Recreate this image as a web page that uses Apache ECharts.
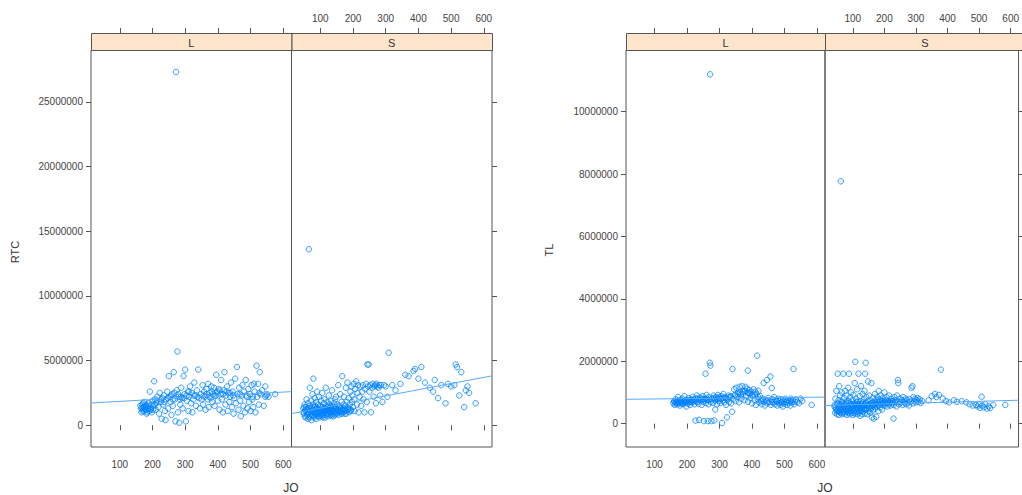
<!DOCTYPE html>
<html><head><meta charset="utf-8">
<script src="https://cdn.jsdelivr.net/npm/echarts@6/dist/echarts.min.js"></script>
<style>html,body{margin:0;padding:0;background:#fff}#c{width:1022px;height:495px}</style>
</head><body><div id="c"></div>
<script>
// ---- data (JO, value in millions) ----
const panels = ['L', 'S'];
const xTicks = [100, 200, 300, 400, 500, 600];
const rtcTicks = [0, 5000000, 10000000, 15000000, 20000000, 25000000];
const tlTicks = [0, 2000000, 4000000, 6000000, 8000000, 10000000];

const rtcL = [[165,1.3],[168,1.6],[170,1.1],[172,1.4],[175,1.8],[178,1.2],[180,1.5],[182,0.9],[185,1.4],[188,1.7],[190,1.1],[192,2.6],[195,1.3],[198,1.0],[200,1.9],[203,1.5],[205,3.4],[208,2.0],[210,1.2],[212,1.7],[215,2.2],[218,1.4],[220,0.9],[222,2.5],[225,1.8],[228,0.5],[230,2.1],[233,1.6],[235,2.3],[238,1.1],[240,0.4],[242,2.0],[245,2.6],[248,1.3],[250,3.8],[252,2.2],[255,1.8],[258,0.8],[260,2.4],[262,1.5],[265,4.1],[268,2.0],[270,0.3],[272,27.3],[274,2.7],[276,5.7],[278,1.0],[280,2.2],[282,0.2],[285,1.6],[288,2.9],[290,2.1],[292,1.3],[295,3.8],[298,2.4],[300,4.3],[302,0.3],[305,1.9],[308,2.6],[310,1.1],[312,2.2],[315,3.0],[318,1.7],[320,2.5],[322,1.0],[325,2.0],[328,3.3],[330,2.3],[333,1.5],[336,2.7],[340,4.3],[342,2.1],[345,1.3],[348,2.4],[350,2.0],[353,3.1],[355,1.6],[358,2.6],[360,2.2],[362,1.2],[365,2.8],[368,2.0],[370,3.2],[372,1.4],[375,2.5],[378,2.1],[380,3.0],[383,1.8],[385,2.4],[388,2.9],[390,1.5],[393,2.3],[395,3.9],[398,2.6],[400,1.9],[402,2.8],[405,1.2],[408,2.4],[410,3.5],[412,2.0],[415,1.0],[418,2.7],[420,4.1],[423,1.6],[425,2.3],[428,3.0],[430,1.1],[433,2.5],[435,1.8],[438,2.2],[440,3.3],[443,1.4],[445,2.6],[448,0.9],[450,2.1],[453,3.6],[455,1.7],[458,4.5],[460,2.4],[463,1.2],[465,2.9],[468,1.9],[470,0.7],[473,2.3],[475,3.1],[478,1.5],[480,2.6],[483,1.0],[485,3.5],[488,2.2],[490,1.3],[493,2.8],[495,1.8],[498,2.4],[500,1.1],[503,3.1],[505,2.0],[508,1.4],[510,3.2],[512,2.6],[515,1.0],[518,4.6],[520,2.2],[523,3.2],[525,1.6],[528,4.1],[530,2.4],[535,2.7],[540,1.5],[545,3.0],[548,2.3],[550,2.4],[555,2.2],[575,2.4],
[163,1.5],[166,1.0],[169,1.3],[171,1.7],[174,1.1],[176,1.4],[179,1.6],[181,1.2],[184,1.0],[187,1.3],[189,1.5],[194,1.2],[197,1.6],[202,1.2],[207,1.6],[214,1.9],[227,2.0],[236,1.8],[247,2.1],[257,2.3],[263,2.0],[267,2.5],[279,2.4],[284,2.0],[287,2.2],[297,2.1],[304,2.3],[311,2.6],[327,2.3],[338,2.2],[357,2.3],[366,2.4],[374,2.2],[382,2.6],[389,2.3],[397,2.5],[406,2.7],[416,2.4],[426,2.6],[437,2.5],[447,2.3],[467,2.4],[487,2.3],[507,2.2],[527,2.5],[545,2.2]];

const rtcS = [[48,1.3],[50,0.9],[52,1.6],[54,1.1],[55,0.6],[57,1.4],[58,2.0],[60,0.8],[61,1.2],[62,1.7],[63,0.5],[65,13.6],[66,1.0],[67,1.5],[68,2.9],[70,0.7],[71,1.3],[72,1.9],[73,0.4],[75,1.1],[76,2.4],[77,0.8],[78,1.6],[79,3.6],[80,1.0],[81,0.6],[82,1.4],[83,2.1],[85,0.9],[86,1.2],[87,0.5],[88,1.8],[89,1.0],[90,2.6],[91,0.7],[92,1.3],[93,1.6],[95,0.9],[96,2.2],[97,1.1],[98,0.6],[100,1.5],[101,0.8],[102,1.9],[103,1.2],[105,0.7],[106,2.5],[107,1.0],[108,1.4],[110,0.8],[111,1.7],[112,1.1],[113,2.0],[115,0.6],[116,1.3],[117,2.9],[118,0.9],[120,1.5],[121,1.1],[122,1.8],[123,0.7],[125,1.2],[126,2.3],[127,0.9],[128,1.6],[130,1.0],[131,1.4],[132,0.8],[133,1.9],[135,1.2],[136,2.7],[137,0.9],[138,1.5],[140,1.1],[141,0.7],[142,1.7],[143,1.3],[145,2.0],[146,0.9],[147,1.4],[148,2.2],[150,1.0],[152,1.6],[153,1.2],[155,3.1],[156,0.8],[158,1.5],[160,1.1],[161,2.4],[162,1.3],[164,0.9],[165,1.8],[167,3.8],[168,1.2],[170,1.0],[171,1.6],[172,2.2],[174,1.3],[175,0.9],[177,1.5],[178,2.9],[180,1.1],[182,1.8],[183,3.3],[185,1.3],[187,2.1],[188,1.0],[190,1.6],[192,2.6],[193,1.2],[195,3.0],[197,1.8],[198,2.3],[200,1.4],[202,3.2],[204,2.0],[205,1.1],[207,2.8],[210,3.4],[212,1.6],[214,2.5],[215,3.1],[217,1.0],[220,2.2],[222,3.0],[225,1.5],[228,2.6],[230,3.1],[232,2.0],[235,1.0],[238,2.8],[240,3.2],[242,1.8],[244,4.7],[246,3.0],[248,4.7],[250,2.6],[253,3.1],[255,1.0],[258,2.9],[260,3.2],[263,2.2],[265,3.0],[268,3.1],[270,1.7],[272,3.2],[275,3.0],[278,2.9],[280,3.1],[283,2.3],[285,3.1],[290,1.8],[295,3.1],[300,3.0],[305,2.2],[309,5.6],[320,3.1],[330,2.7],[345,3.2],[360,3.9],[370,3.8],[385,4.2],[390,4.35],[400,3.6],[409,4.5],[420,3.3],[435,2.9],[445,2.6],[450,3.5],[460,2.1],[470,3.1],[483,1.7],[490,3.2],[500,3.0],[510,3.1],[514,4.7],[518,4.5],[525,2.3],[531,4.1],[540,1.4],[545,2.7],[550,3.0],[555,2.5],[575,1.7],
[49,1.0],[51,1.4],[53,0.7],[56,1.2],[59,1.0],[62,0.9],[64,1.3],[66,0.6],[69,1.1],[72,0.9],[74,1.4],[77,1.2],[79,0.7],[82,1.0],[84,1.5],[86,0.8],[88,1.3],[91,1.0],[94,1.2],[96,0.7],[99,1.1],[102,1.4],[104,0.9],[107,1.2],[109,0.6],[112,1.3],[114,1.0],[117,0.8],[119,1.2],[122,1.4],[124,0.9],[127,1.1],[129,1.3],[132,1.0],[134,0.7],[137,1.2],[139,1.4],[142,1.0],[144,0.8],[147,1.1],[149,1.3],[152,0.9],[154,1.2],[157,1.0],[159,1.4],[163,1.1],[166,0.9],[169,1.3],[173,1.1],[176,1.2],[179,0.9],[184,1.2],[189,1.3],[194,1.1]];

const tlL = [[158,0.65],[160,0.72],[162,0.60],[165,0.78],[167,0.68],[170,0.62],[172,0.85],[175,0.70],[178,0.58],[180,0.75],[182,0.66],[185,0.80],[188,0.62],[190,0.72],[192,0.88],[195,0.66],[198,0.55],[200,0.74],[203,0.64],[205,0.82],[208,0.70],[210,0.60],[213,0.77],[215,0.68],[218,0.86],[220,0.72],[223,0.62],[226,0.10],[228,0.80],[230,0.90],[232,0.70],[235,0.64],[237,0.12],[240,0.84],[242,0.74],[245,0.60],[248,0.88],[250,0.70],[252,0.08],[255,0.80],[257,1.60],[258,0.66],[260,0.92],[262,0.75],[264,0.08],[266,0.62],[268,0.85],[270,1.95],[271,11.2],[272,1.86],[273,0.70],[275,0.08],[277,0.80],[280,0.66],[282,0.90],[284,0.10],[286,0.75],[287,0.45],[290,0.85],[292,0.62],[295,0.92],[298,0.72],[300,0.80],[302,0.66],[305,0.88],[308,0.02],[310,0.74],[312,0.95],[315,0.68],[318,0.82],[320,0.60],[323,0.20],[325,0.78],[328,0.90],[330,0.70],[333,0.85],[336,0.65],[339,0.38],[340,1.75],[342,0.78],[345,1.10],[347,0.90],[350,0.72],[352,1.15],[355,0.85],[358,1.00],[360,0.68],[362,1.18],[365,0.92],[367,0.80],[370,1.20],[372,0.95],[375,1.05],[377,0.75],[380,1.18],[382,0.88],[385,1.12],[387,1.70],[388,0.70],[390,0.98],[392,1.08],[395,0.82],[398,1.02],[400,0.65],[402,0.92],[405,1.10],[408,0.75],[410,1.02],[412,0.60],[414,0.95],[416,2.18],[418,0.78],[420,1.05],[422,0.68],[425,0.88],[428,0.72],[430,0.62],[433,0.80],[436,1.30],[438,0.70],[440,0.58],[443,0.76],[446,1.40],[448,0.65],[450,0.82],[453,0.70],[457,1.51],[458,0.60],[461,1.14],[463,0.78],[465,0.68],[468,0.85],[470,0.62],[473,0.75],[475,0.70],[478,0.58],[480,0.80],[483,0.66],[485,0.72],[488,0.60],[490,0.78],[493,0.68],[495,0.55],[498,0.74],[500,0.64],[503,0.80],[505,0.70],[508,0.60],[510,0.76],[513,0.66],[515,0.72],[518,0.58],[520,0.80],[523,0.68],[526,0.75],[528,1.75],[530,0.62],[535,0.78],[540,0.70],[545,0.65],[550,0.80],[555,0.72],[584,0.60],
[161,0.70],[164,0.66],[168,0.72],[171,0.68],[174,0.74],[177,0.65],[181,0.70],[184,0.66],[187,0.72],[191,0.68],[194,0.75],[197,0.70],[202,0.72],[207,0.76],[212,0.70],[217,0.75],[222,0.78],[227,0.72],[233,0.80],[238,0.76],[243,0.80],[249,0.78],[254,0.75],[261,0.80],[267,0.76],[276,0.78],[283,0.82],[289,0.78],[294,0.80],[299,0.84],[304,0.78],[309,0.82],[316,0.85],[322,0.80],[329,0.84],[335,0.88],[348,0.92],[356,0.95],[364,1.00],[371,1.02],[379,1.05],[386,1.00],[393,0.95],[401,0.90],[409,0.92],[419,0.85],[432,0.75],[447,0.72],[462,0.70],[476,0.72],[491,0.68],[506,0.70],[521,0.72],[533,0.70]];

const tlS = [[42,0.55],[44,0.35],[45,0.80],[47,0.45],[48,1.05],[50,0.30],[51,0.62],[52,1.60],[53,0.40],[55,0.75],[56,0.28],[57,1.20],[58,0.50],[60,0.90],[61,0.35],[62,7.77],[63,0.62],[64,0.42],[65,1.00],[66,0.30],[67,0.70],[68,0.48],[70,1.60],[71,0.38],[72,0.82],[73,0.55],[75,0.32],[76,1.05],[77,0.60],[78,0.40],[80,0.90],[81,0.28],[82,0.65],[83,0.45],[85,1.15],[86,0.35],[87,0.72],[88,1.60],[89,0.50],[90,0.30],[92,0.85],[93,0.42],[94,0.62],[95,1.00],[96,0.35],[98,0.55],[99,0.75],[100,0.28],[101,0.48],[102,0.92],[103,0.40],[105,0.65],[106,1.30],[107,0.32],[108,1.98],[109,0.58],[110,0.80],[111,0.38],[112,0.52],[114,1.10],[115,0.30],[116,0.70],[117,0.45],[118,1.60],[119,0.60],[120,0.35],[122,0.88],[123,0.50],[124,0.25],[125,0.72],[126,1.20],[127,0.42],[128,0.62],[130,0.30],[131,0.95],[132,0.55],[133,0.38],[135,0.78],[136,0.48],[137,1.05],[138,0.32],[139,1.60],[140,0.65],[141,1.95],[142,0.45],[143,0.85],[145,0.58],[146,0.30],[147,0.72],[148,1.35],[150,0.50],[151,0.40],[152,0.90],[153,0.62],[155,0.35],[156,0.75],[157,0.48],[159,1.30],[160,0.58],[161,0.20],[162,0.68],[164,0.42],[165,0.82],[166,0.55],[167,0.16],[168,0.70],[170,0.95],[171,0.48],[172,0.62],[174,0.22],[175,0.75],[176,0.55],[178,0.85],[180,0.68],[181,0.40],[182,1.05],[184,0.60],[185,0.78],[187,0.52],[188,0.90],[190,0.65],[192,0.72],[193,0.45],[195,0.82],[197,0.60],[198,0.70],[200,1.00],[202,0.58],[204,0.75],[205,0.65],[207,0.85],[210,0.55],[212,0.72],[214,0.62],[215,0.90],[217,0.68],[220,0.58],[222,0.80],[225,0.65],[227,0.72],[229,0.16],[230,0.60],[232,0.85],[234,0.68],[236,0.75],[238,0.55],[240,0.90],[243,1.40],[244,1.30],[245,0.70],[247,0.62],[250,0.80],[252,0.68],[255,0.75],[258,0.60],[260,0.85],[262,0.72],[265,0.66],[268,0.80],[270,0.62],[272,0.75],[275,0.68],[278,0.58],[280,0.78],[283,0.70],[286,1.15],[289,1.20],[290,0.65],[292,0.85],[295,0.72],[298,0.80],[300,0.68],[302,0.75],[305,0.82],[308,0.70],[312,0.78],[315,0.66],[320,0.72],[340,0.75],[350,0.88],[360,0.95],[365,0.85],[373,0.92],[379,1.73],[385,0.80],[395,0.72],[405,0.68],[420,0.75],[430,0.70],[445,0.72],[460,0.68],[470,0.62],[480,0.58],[490,0.60],[495,0.55],[500,0.62],[503,0.50],[508,0.86],[510,0.58],[515,0.52],[520,0.62],[525,0.48],[530,0.55],[535,0.50],[545,0.60],[583,0.60],
[43,0.60],[46,0.50],[49,0.40],[52,0.65],[54,0.50],[57,0.38],[59,0.60],[62,0.45],[64,0.70],[67,0.55],[69,0.35],[72,0.62],[74,0.45],[77,0.50],[79,0.70],[82,0.38],[84,0.55],[87,0.48],[89,0.65],[92,0.40],[94,0.52],[97,0.62],[99,0.45],[102,0.58],[104,0.35],[107,0.60],[109,0.45],[112,0.70],[114,0.50],[117,0.62],[119,0.40],[122,0.55],[124,0.62],[127,0.50],[129,0.42],[132,0.68],[134,0.55],[137,0.60],[139,0.45],[142,0.65],[144,0.50],[149,0.60],[154,0.55],[158,0.65],[163,0.58],[169,0.62],[173,0.66],[179,0.60],[186,0.70],[191,0.62],[196,0.66],[203,0.70],[209,0.66],[218,0.70],[224,0.72],[233,0.70]];

// fitted lines (endpoints, millions)
const fitRtcL = [[12,1.72],[625,2.60]];
const fitRtcS = [[12,0.90],[625,3.82]];
const fitTlL = [[12,0.78],[625,0.85]];
const fitTlS = [[12,0.58],[625,0.75]];

// ---- chart ----
const M = 1e6;
const toAbs = arr => arr.map(p => [p[0], p[1] * M]);
const FONT = 'Liberation Sans, Arial, sans-serif';
const AX = '#555';
const TXT = '#444';
const PT = '#0080ff';
const FIT = '#5aaaff';

const yRange = [[-1680000, 29000000], [-750000, 11980000]];
const yTicks = [rtcTicks, tlTicks];
const gridDefs = [
  {left: 91, width: 200.5, chart: 0, panel: 0},
  {left: 291.5, width: 200.5, chart: 0, panel: 1},
  {left: 626, width: 199, chart: 1, panel: 0},
  {left: 825, width: 200, chart: 1, panel: 1}
];
const TOP = 50, HEIGHT = 397, STRIP = 17;

const grid = [], xAxis = [], yAxis = [], series = [], graphic = [];
const pts = [[rtcL, rtcS], [tlL, tlS]];
const fits = [[fitRtcL, fitRtcS], [fitTlL, fitTlS]];

gridDefs.forEach((g, i) => {
  grid.push({left: g.left, top: TOP, width: g.width, height: HEIGHT, show: true,
    borderColor: AX, borderWidth: 1, backgroundColor: 'transparent'});
  const isL = g.panel === 0;
  const xBase = {type: 'value', gridIndex: i, min: 12, max: 625,
    splitLine: {show: false}, axisLine: {show: false},
    axisTick: {show: true, length: 5, lineStyle: {color: AX}, customValues: xTicks},
    axisLabel: {fontSize: 10, color: TXT, fontFamily: FONT, customValues: xTicks}};
  xAxis.push(Object.assign({}, xBase, {position: 'bottom',
    axisLabel: Object.assign({}, xBase.axisLabel, {show: isL, margin: 12})}));
  xAxis.push(Object.assign({}, xBase, {position: 'top', offset: STRIP,
    axisLabel: Object.assign({}, xBase.axisLabel, {show: !isL, margin: 10})}));
  const yt = yTicks[g.chart];
  yAxis.push({type: 'value', gridIndex: i, min: yRange[g.chart][0], max: yRange[g.chart][1],
    position: isL ? 'left' : 'right',
    splitLine: {show: false}, axisLine: {show: false},
    axisTick: {show: true, length: 5, lineStyle: {color: AX}, customValues: yt},
    axisLabel: {show: isL, fontSize: 10, color: TXT, fontFamily: FONT, customValues: yt, margin: 8,
      formatter: v => String(v)}});
  series.push({type: 'scatter', xAxisIndex: 2 * i, yAxisIndex: i,
    data: toAbs(pts[g.chart][g.panel]), symbol: 'circle', symbolSize: 5.5, silent: true,
    itemStyle: {color: 'rgba(0,128,255,0.08)', borderColor: PT, borderWidth: 1, opacity: 0.75},
    z: 3});
  series.push({type: 'line', xAxisIndex: 2 * i, yAxisIndex: i, data: toAbs(fits[g.chart][g.panel]),
    showSymbol: false, symbol: 'none', silent: true, clip: true,
    lineStyle: {color: FIT, width: 1}, z: 4});
  graphic.push({type: 'rect', left: g.left, top: TOP - STRIP,
    shape: {width: g.width, height: STRIP},
    style: {fill: '#ffe5cc', stroke: AX, lineWidth: 1}, z: 10});
  graphic.push({type: 'text', x: g.left + g.width / 2, y: TOP - STRIP / 2 + 1,
    style: {text: panels[g.panel], fill: '#333', font: '11px ' + FONT,
      textAlign: 'center', textVerticalAlign: 'middle'}, z: 11});
});

graphic.push({type: 'text', x: 15, y: 252, rotation: Math.PI / 2,
  style: {text: 'RTC', fill: '#333', font: '11px ' + FONT, textAlign: 'center', textVerticalAlign: 'middle'}});
graphic.push({type: 'text', x: 549, y: 250, rotation: Math.PI / 2,
  style: {text: 'TL', fill: '#333', font: '11px ' + FONT, textAlign: 'center', textVerticalAlign: 'middle'}});
graphic.push({type: 'text', x: 291, y: 488,
  style: {text: 'JO', fill: '#333', font: '12px ' + FONT, textAlign: 'center', textVerticalAlign: 'middle'}});
graphic.push({type: 'text', x: 825, y: 488,
  style: {text: 'JO', fill: '#333', font: '12px ' + FONT, textAlign: 'center', textVerticalAlign: 'middle'}});

const chart = echarts.init(document.getElementById('c'), null, {renderer: 'svg'});
chart.setOption({animation: false, backgroundColor: '#fff', grid, xAxis, yAxis, series, graphic});
</script></body></html>
